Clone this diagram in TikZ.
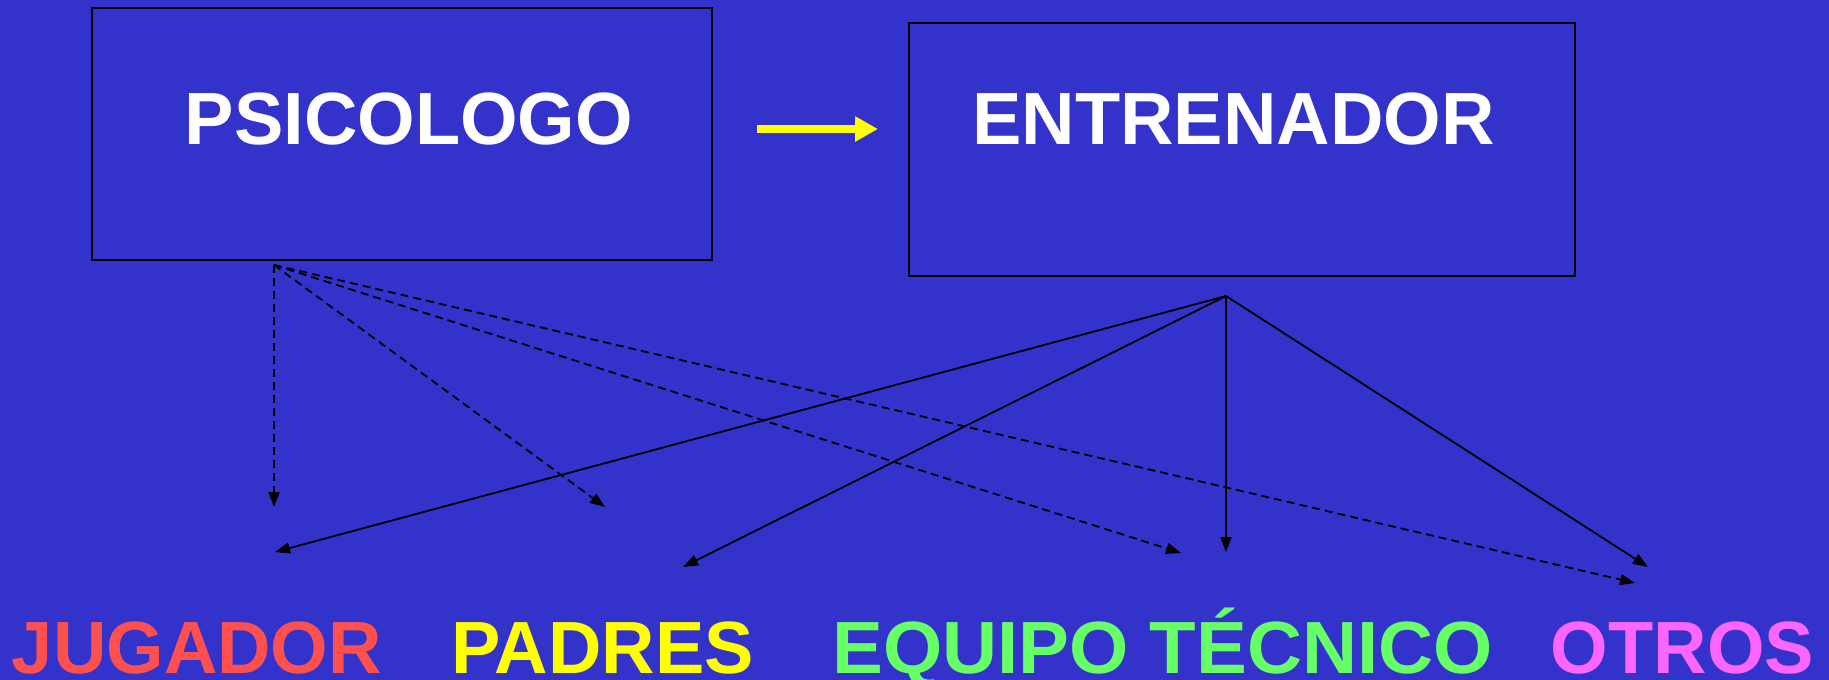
\documentclass[tikz,border=0pt]{standalone}
\usepackage{fontspec}
\usepackage{graphicx}
\setmainfont{Liberation Sans}
\usetikzlibrary{arrows.meta}
\definecolor{bgblue}{HTML}{3333CC}
\definecolor{cred}{HTML}{FF5050}
\definecolor{cyellow}{HTML}{FFFF00}
\definecolor{cgreen}{HTML}{66FF66}
\definecolor{cpink}{HTML}{FF66FF}
\tikzset{
  box/.style={draw=black, line width=2.4pt, fill=bgblue, inner sep=0pt},
  bigtext/.style={font=\fontsize{74}{80}\selectfont\bfseries, inner sep=0pt, anchor=base, text depth=0pt},
  tip/.style={-{Triangle[length=15pt,width=11pt]}},
  dashline/.style={tip, black, line width=1.8pt, dash pattern=on 8pt off 5pt},
  solidline/.style={tip, black, line width=1.8pt},
  yellowarrow/.style={cyellow, line width=8pt, -{Triangle[length=23pt,width=24pt]}}
}
\begin{document}
\begin{tikzpicture}[x=1pt,y=-1pt]
\fill[bgblue] (0,0) rectangle (1829,680);
\useasboundingbox (0,0) rectangle (1829,680);

\node[box, minimum width=620pt, minimum height=252pt] (psi) at (402,134) {};
\node[box, minimum width=666pt, minimum height=253pt] (ent) at (1242,149.5) {};
\node[bigtext, text=white] (psit) at (409,144) {PSICOLOGO};
\node[bigtext, text=white] (entt) at (1233.5,144) {ENTRENADOR};

\coordinate (ya) at (757,129);
\coordinate (yb) at (878,129);
\draw[yellowarrow] (ya) -- (yb);

\coordinate (psiO) at (274,265);
\coordinate (entO) at (1226,296);

\coordinate (d1) at (274,507);
\coordinate (d2) at (605,507);
\coordinate (d3) at (1181,553);
\coordinate (d4) at (1635,583);
\coordinate (s1) at (275,552);
\coordinate (s2) at (683,567);
\coordinate (s3) at (1226,552);
\coordinate (s4) at (1648,567);

\draw[dashline] (psiO) -- (d1);
\draw[dashline] (psiO) -- (d2);
\draw[dashline] (psiO) -- (d3);
\draw[dashline] (psiO) -- (d4);
\draw[solidline] (entO) -- (s1);
\draw[solidline] (entO) -- (s2);
\draw[solidline] (entO) -- (s3);
\draw[solidline] (entO) -- (s4);

\node[bigtext, text=cred] (jug) at (197,673) {JUGADOR};
\node[bigtext, text=cyellow] (pad) at (602.5,673) {PADRES};
\node[bigtext, text=cgreen] (equ) at (1162.5,673) {\scalebox{1.03}[1]{EQUIPO TÉCNICO}};
\node[bigtext, text=cpink] (otr) at (1682.5,673) {OTROS};
\end{tikzpicture}
\end{document}
